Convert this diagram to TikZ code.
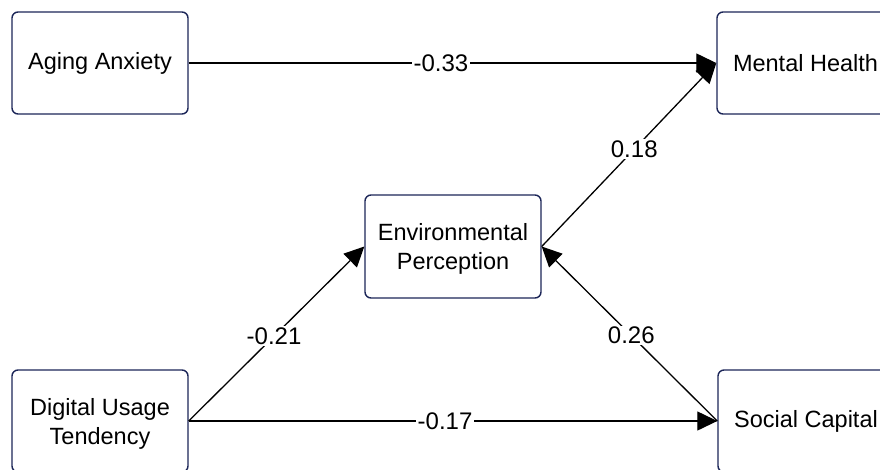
\documentclass[tikz,border=0pt]{standalone}
\usepackage{fontspec}
\setmainfont{Liberation Sans}
\usetikzlibrary{arrows.meta}
\definecolor{boxline}{RGB}{28,38,88}
\begin{document}
\begin{tikzpicture}[x=1pt,y=-1pt,
  box/.style={draw=boxline,line width=1.4pt,rounded corners=6pt,fill=white,
    minimum width=176pt,minimum height=102pt,align=center,inner sep=0pt,
    font=\fontsize{23.5}{29}\selectfont},
  twoline/.style={text depth=0pt},
  conn/.style={line width=1.3pt,-{Triangle[length=20pt,width=19pt]}},
  lbl/.style={fill=white,inner sep=1.5pt,font=\fontsize{24}{28}\selectfont}]
\useasboundingbox (0,0) rectangle (880,469);
\clip (0,0) rectangle (880,469);
\fill[white] (0,0) rectangle (880,469);
\node[box] (aa) at (100,63) {Aging Anxiety};
\node[box,minimum width=177pt] (mh) at (805.5,63) {Mental Health};
\node[box,twoline,minimum height=103pt] (ep) at (453,246.5) {Environmental\\Perception};
\node[box,twoline] (du) at (100,421) {Digital Usage\\Tendency};
\node[box] (sc) at (806,421) {Social Capital};
\draw[conn] (aa.east) -- node[lbl,pos=0.478] {-0.33} (mh.west);
\draw[conn] (ep.east) -- node[lbl,pos=0.53] {0.18} (mh.west);
\draw[conn] (du.east) -- node[lbl,pos=0.486] {-0.21} (ep.west);
\draw[conn] (du.east) -- node[lbl,pos=0.485] {-0.17} (sc.west);
\draw[conn] (sc.west) -- node[lbl,pos=0.49] {0.26} (ep.east);
\end{tikzpicture}
\end{document}
